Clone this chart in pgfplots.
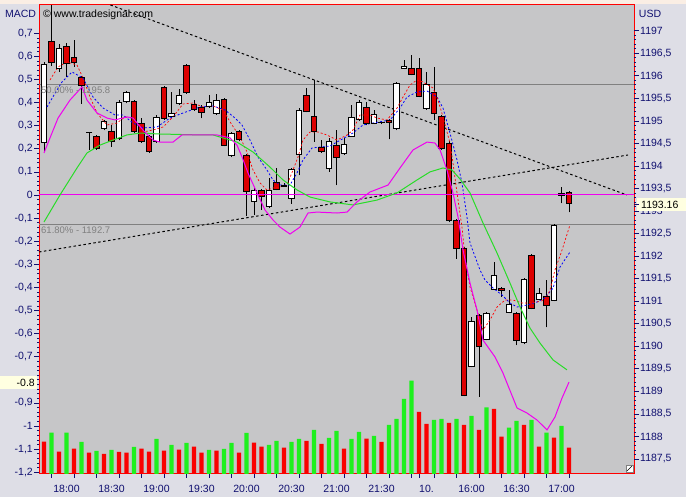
\documentclass[border=0pt]{standalone}
\usepackage{fontspec}
\setmainfont{Liberation Sans}
\usepackage{pgfplots}
\usepackage{pgfplotstable}
\pgfplotsset{compat=1.18}

\definecolor{outerbg}{RGB}{222,222,230}
\definecolor{plotbg}{RGB}{198,198,200}
\definecolor{topband}{RGB}{250,238,228}
\definecolor{navy}{RGB}{16,16,112}
\definecolor{candlered}{RGB}{220,0,0}
\definecolor{volgreen}{RGB}{30,240,30}
\definecolor{volred}{RGB}{250,0,0}
\definecolor{sigreen}{RGB}{40,220,40}
\definecolor{macdmag}{RGB}{240,0,240}
\definecolor{fibgray}{RGB}{128,128,128}
\definecolor{lightyellow}{RGB}{255,255,225}

% all candles: index, open, high, low, close
\pgfplotstableread{
i o h l c
0 1194.515 1196.306 1194.309 1196.261
1 1196.771 1197.570 1196.217 1196.299
2 1196.166 1196.705 1196.084 1196.610
3 1196.661 1196.720 1195.973 1196.277
4 1196.410 1196.794 1196.201 1196.299
5 1195.966 1195.995 1195.374 1195.795
6 1194.742 1194.753 1194.354 1194.742
7 1194.649 1194.686 1194.354 1194.391
8 1194.835 1195.019 1194.797 1194.981
9 1194.775 1194.908 1194.427 1194.538
10 1194.613 1195.463 1194.575 1195.412
11 1195.425 1195.662 1195.396 1195.633
12 1195.425 1195.463 1194.731 1194.760
13 1194.946 1195.063 1194.509 1194.538
14 1194.664 1194.686 1194.287 1194.331
15 1194.538 1195.130 1194.509 1195.079
16 1195.744 1195.773 1195.019 1195.057
17 1195.092 1195.647 1195.063 1195.168
18 1195.389 1195.707 1195.352 1195.558
19 1196.239 1196.261 1195.596 1195.640
20 1195.374 1195.463 1195.219 1195.256
21 1195.301 1195.352 1195.063 1195.190
22 1195.314 1195.574 1195.285 1195.412
23 1195.168 1195.596 1195.130 1195.447
24 1195.478 1195.507 1194.442 1194.464
25 1194.243 1194.753 1194.198 1194.724
26 1194.760 1194.797 1194.553 1194.598
27 1194.227 1194.265 1192.889 1193.429
28 1193.207 1193.511 1192.912 1193.466
29 1193.451 1193.488 1193.023 1193.333
30 1193.111 1193.726 1193.067 1193.466
31 1193.637 1193.948 1193.466 1193.482
32 1193.566 1193.621 1193.533 1193.555
33 1193.282 1193.954 1193.156 1193.925
34 1194.258 1195.285 1193.799 1195.241
35 1195.574 1195.722 1195.196 1195.219
36 1195.108 1195.906 1194.538 1194.760
37 1194.413 1194.575 1194.287 1194.316
38 1193.954 1194.620 1193.866 1194.553
39 1194.464 1194.797 1193.577 1194.192
40 1194.280 1194.613 1194.243 1194.487
41 1194.664 1195.352 1194.642 1195.079
42 1195.035 1195.463 1194.997 1195.412
43 1195.301 1195.425 1194.908 1194.946
44 1194.946 1195.241 1194.930 1195.145
45 1194.968 1194.975 1194.930 1194.968
46 1195.019 1195.041 1194.591 1194.959
47 1194.835 1195.862 1194.797 1195.833
48 1196.166 1196.350 1196.150 1196.217
49 1196.166 1196.461 1196.017 1196.039
50 1196.166 1196.388 1195.529 1195.551
51 1195.279 1196.090 1195.241 1195.811
52 1195.633 1196.201 1195.019 1195.168
53 1195.092 1195.130 1194.354 1194.391
54 1194.509 1194.553 1192.756 1192.785
55 1192.801 1192.823 1191.936 1192.173
56 1192.173 1192.202 1188.897 1188.919
57 1189.562 1190.656 1189.540 1190.560
58 1190.693 1190.716 1188.881 1190.006
59 1190.154 1190.760 1190.139 1190.731
60 1191.263 1191.876 1191.248 1191.574
61 1191.292 1191.314 1191.099 1191.232
62 1190.753 1191.248 1190.738 1190.937
63 1190.731 1190.760 1190.028 1190.123
64 1190.079 1191.514 1190.050 1191.485
65 1192.024 1192.047 1190.826 1190.842
66 1191.048 1191.286 1191.026 1191.175
67 1191.099 1191.470 1190.420 1190.900
68 1191.026 1192.712 1191.004 1192.690
69 1193.393 1193.526 1193.171 1193.355
70 1193.415 1193.444 1192.972 1193.171
}\candles

% rising (white) candles: index, open, close
\pgfplotstableread{
i o c
0 1194.515 1196.261
2 1196.166 1196.610
8 1194.835 1194.981
10 1194.613 1195.412
11 1195.425 1195.633
15 1194.538 1195.079
17 1195.092 1195.168
18 1195.389 1195.558
22 1195.314 1195.412
23 1195.168 1195.447
25 1194.243 1194.724
28 1193.207 1193.466
30 1193.111 1193.466
33 1193.282 1193.925
34 1194.258 1195.241
38 1193.954 1194.553
40 1194.280 1194.487
41 1194.664 1195.079
42 1195.035 1195.412
44 1194.946 1195.145
47 1194.835 1195.833
48 1196.166 1196.217
51 1195.279 1195.811
57 1189.562 1190.560
59 1190.154 1190.731
60 1191.263 1191.574
62 1190.753 1190.937
64 1190.079 1191.485
66 1191.048 1191.175
68 1191.026 1192.690
}\upc

% falling (red) candles: index, open, close
\pgfplotstableread{
i o c
1 1196.771 1196.299
3 1196.661 1196.277
4 1196.410 1196.299
5 1195.966 1195.795
6 1194.742 1194.742
7 1194.649 1194.391
9 1194.775 1194.538
12 1195.425 1194.760
13 1194.946 1194.538
14 1194.664 1194.331
16 1195.744 1195.057
19 1196.239 1195.640
20 1195.374 1195.256
21 1195.301 1195.190
24 1195.478 1194.464
26 1194.760 1194.598
27 1194.227 1193.429
29 1193.451 1193.333
31 1193.637 1193.482
32 1193.566 1193.555
35 1195.574 1195.219
36 1195.108 1194.760
37 1194.413 1194.316
39 1194.464 1194.192
43 1195.301 1194.946
45 1194.968 1194.968
46 1195.019 1194.959
49 1196.166 1196.039
50 1196.166 1195.551
52 1195.633 1195.168
53 1195.092 1194.391
54 1194.509 1192.785
55 1192.801 1192.173
56 1192.173 1188.919
58 1190.693 1190.006
61 1191.292 1191.232
63 1190.731 1190.123
65 1192.024 1190.842
67 1191.099 1190.900
69 1193.393 1193.355
70 1193.415 1193.171
}\downc

\pgfplotstableread{
i v
1 41.3
3 41.3
5 32
7 23
9 24
12 27
15 35
17 29
19 31
22 24
24 25
25 31
27 41
30 29
31 33
33 32
34 35
36 44
38 36
39 43
41 35
42 42
44 38
46 49
47 55
48 75
49 93.3
52 54
53 55
55 55
57 58
59 66.7
62 46.3
63 53
65 54
67 41.3
69 48
}\volg

\pgfplotstableread{
i v
0 32.3
2 22.3
4 25.3
6 21.3
8 20
10 22
11 21.3
13 25.3
14 22.3
16 23.3
18 24.3
20 27.3
21 21.3
23 23.3
26 21.3
28 31.3
29 27.3
32 26.3
35 33
37 30
40 25.3
43 35.3
45 32
50 62
51 50
54 51
56 49
58 44
60 65
61 37.3
64 49
66 27.3
68 36.3
70 26.3
}\volr

\pgfplotstableread{
i p
0.4 1195.307
1.73 1195.685
2.4 1195.862
3.73 1196.084
5.2 1195.951
6.53 1195.529
7.87 1195.285
9.47 1195.130
10.53 1195.130
11.87 1194.952
13.2 1194.842
15.07 1194.864
16.8 1195.063
18.53 1195.174
20.8 1195.307
22.53 1195.330
24.13 1195.241
25.47 1195.063
26.4 1194.908
27.47 1194.575
28.53 1194.198
29.73 1193.910
30.53 1193.688
31.47 1193.577
32.8 1193.577
33.73 1193.843
34.53 1194.132
35.73 1194.398
36.8 1194.420
38.13 1194.442
39.07 1194.531
41.2 1194.731
42.53 1194.908
43.87 1194.952
46.13 1195.019
47.47 1195.285
48.4 1195.529
49.73 1195.640
51.07 1195.662
52.4 1195.529
53.2 1195.285
54.13 1194.731
55.07 1194.132
55.73 1193.621
56.4 1192.867
56.8 1192.291
58.13 1191.692
58.8 1191.470
59.87 1191.292
61.07 1191.137
62.13 1190.960
63.07 1190.871
64.4 1190.915
65.73 1190.982
66.8 1191.070
67.87 1191.292
68.8 1191.758
70.13 1192.091
}\mablue

\pgfplotstableread{
i p
0.8 1195.906
1.87 1196.195
3.07 1196.306
4.4 1196.239
5.2 1195.951
6.13 1195.529
7.07 1195.174
8.4 1194.908
9.73 1194.952
10.8 1195.086
11.87 1195.063
13.2 1194.753
14.53 1194.797
15.87 1194.864
17.2 1195.086
18.53 1195.374
19.87 1195.396
21.2 1195.307
22.53 1195.330
23.87 1195.241
25.07 1194.908
26.13 1194.642
27.07 1194.309
27.87 1193.910
28.8 1193.622
29.73 1193.466
30.53 1193.511
31.47 1193.533
32.4 1193.577
33.2 1193.910
33.87 1194.198
34.53 1194.575
35.47 1194.753
36.53 1194.753
37.73 1194.686
39.07 1194.575
40.4 1194.686
41.2 1194.797
42.13 1195.130
43.47 1195.130
44.4 1195.063
45.73 1195.019
47.07 1195.285
47.87 1195.529
48.8 1195.795
49.73 1195.906
50.53 1195.862
51.87 1195.729
52.53 1195.463
53.2 1195.086
54.13 1194.509
54.53 1194.065
55.07 1193.400
55.73 1192.645
56.13 1191.980
56.8 1191.315
57.73 1190.804
58.53 1190.361
59.47 1190.583
60.4 1190.871
61.47 1191.026
62.53 1191.026
63.73 1190.960
64.53 1190.960
65.73 1190.982
66.8 1191.026
67.47 1191.248
68.13 1191.692
69.07 1192.135
70.13 1192.690
}\mared

\pgfplotstableread{
i m
0 0.182
0.8 0.247
1.87 0.333
3.47 0.411
5.07 0.468
5.73 0.411
7.07 0.355
8.4 0.333
9.47 0.325
11.07 0.338
11.87 0.333
13.2 0.281
14.53 0.238
15.47 0.229
17.2 0.229
18.4 0.260
20.8 0.260
23.07 0.260
24.8 0.247
25.73 0.216
26.4 0.165
27.2 0.095
28.4 0.009
29.47 -0.065
30.53 -0.108
31.47 -0.139
32.8 -0.169
34.13 -0.139
35.2 -0.078
36.4 -0.074
39.07 -0.078
40.4 -0.074
41.73 -0.030
43.47 0.013
45.87 0.043
47.47 0.117
49.2 0.195
51.07 0.229
52.13 0.225
52.8 0.195
53.73 0.108
54.53 0.009
55.2 -0.095
55.87 -0.238
56.8 -0.381
57.73 -0.498
58.53 -0.628
60.13 -0.701
61.2 -0.771
61.73 -0.814
63.07 -0.922
64.4 -0.944
65.73 -0.974
67.07 -1.017
68.13 -0.961
69.07 -0.879
70 -0.810
}\macd

\pgfplotstableread{
i s
0 -0.117
2.13 0
4.4 0.117
5.73 0.182
7.47 0.216
9.2 0.238
11.07 0.260
12.8 0.268
15.47 0.264
20.8 0.260
22.53 0.260
23.87 0.247
25.73 0.229
27.87 0.186
30.13 0.121
31.87 0.065
33.73 0.022
35.47 -0.009
38.13 -0.030
41.2 -0.043
44.4 -0.022
47.07 0.009
49.73 0.065
51.47 0.100
53.2 0.117
54.4 0.108
55.47 0.069
56.8 0.009
58.53 -0.121
60.4 -0.251
62.13 -0.381
63.47 -0.485
64.8 -0.576
66.13 -0.641
67.87 -0.714
69.73 -0.757
}\signal

\pgfplotsset{
  myaxis/.style={
    at={(39pt,23pt)}, anchor=south west,
    width=595pt, height=469pt, scale only axis,
    xmin=-0.667, xmax=78.667, clip=false,
    tick label style={font=\fontsize{10.5}{12}\selectfont, text=navy},
    tick style={navy, line width=0.7pt},
  },
  body/.style={only marks, no markers, mark size=0pt,
    error bars/.cd, y dir=plus, y explicit, error mark=none,
    error mark options={draw=none, fill=none, mark size=0pt},
    error bar style={line cap=butt, #1}},
}

\begin{document}
\begin{tikzpicture}[x=1pt,y=1pt]
\useasboundingbox (0,0) rectangle (686,497);
\fill[outerbg] (0,0) rectangle (686,497);
\fill[topband] (0,493) rectangle (686,497);

% volume pane and frame
\begin{axis}[myaxis,
  ymin=0, ymax=469,
  axis background/.style={fill=plotbg},
  axis line style={red, line width=1pt},
  ytick=\empty,
  xtick={3,9,15,21,27,33,39,45,51,57,63,69},
  xticklabels={18:00,18:30,19:00,19:30,20:00,20:30,21:00,21:30,10.,16:00,16:30,17:00},
  minor xtick={1,4,7,10,13,16,19,22,25,28,31,34,37,40,43,46,49,50,52,55,58,61,64,67,70},
  xtick pos=bottom, tick align=outside,
  major tick length=0pt, minor tick length=4pt,
  xticklabel style={yshift=-8pt},
]
\addplot[ybar, bar width=0.55, bar shift=0pt, fill=volgreen, draw=none] table[x=i,y=v] {\volg};
\addplot[ybar, bar width=0.55, bar shift=0pt, fill=volred, draw=none] table[x=i,y=v] {\volr};
\end{axis}

% price pane
\begin{axis}[myaxis,
  ymin=1187.167, ymax=1197.570,
  axis line style={draw=none},
  xtick=\empty,
  ytick={1187.5,1188,1188.5,1189,1189.5,1190,1190.5,1191,1191.5,1192,1192.5,1193,1193.5,1194,1194.5,1195,1195.5,1196,1196.5,1197},
  yticklabels={{1187,5},{1188},{1188,5},{1189},{1189,5},{1190},{1190,5},{1191},{1191,5},{1192},{1192,5},{1193},{1193,5},{1194},{1194,5},{1195},{1195,5},{1196},{1196,5},{1197}},
  ytick pos=right, yticklabel pos=right,
  tick align=outside, minor y tick num=4,
  major tick length=5pt, minor tick length=2pt,
  yticklabel style={inner sep=1pt},
]
% Fibonacci levels
\addplot[fibgray, line width=0.8pt] coordinates {(-0.667,1195.8) (78.667,1195.8)};
\addplot[fibgray, line width=0.8pt] coordinates {(-0.667,1192.7) (78.667,1192.7)};
% trend lines
\addplot[black, line width=1pt, dash pattern=on 2.5pt off 2.5pt] coordinates {(8.85,1197.570) (77.73,1193.355)};
\addplot[black, line width=1pt, dash pattern=on 2.5pt off 2.5pt] coordinates {(-0.667,1192.091) (77.87,1194.243)};
% wicks
\addplot[body={draw=black, line width=0.9pt}] table[x=i, y=l, y error plus expr=\thisrow{h}-\thisrow{l}] {\candles};
% bodies: outline, then fill
\addplot[body={draw=black, line width=6.2pt}] table[x=i, y=o, y error plus expr=\thisrow{c}-\thisrow{o}] {\upc};
\addplot[body={draw=black, line width=6.2pt}] table[x=i, y=c, y error plus expr=\thisrow{o}-\thisrow{c}] {\downc};
\addplot[body={draw=white, line width=4.6pt}] table[x=i, y=o, y error plus expr=\thisrow{c}-\thisrow{o}] {\upc};
\addplot[body={draw=candlered, line width=4.6pt}] table[x=i, y=c, y error plus expr=\thisrow{o}-\thisrow{c}] {\downc};
% top and bottom edges of the bodies
\addplot[only marks, mark=-, mark size=3.1pt, mark options={black, line width=0.8pt}] table[x=i,y=o] {\candles};
\addplot[only marks, mark=-, mark size=3.1pt, mark options={black, line width=0.8pt}] table[x=i,y=c] {\candles};
% moving averages
\addplot[blue, line width=0.8pt, dash pattern=on 2pt off 2pt] table[x=i,y=p] {\mablue};
\addplot[red, line width=0.7pt, dash pattern=on 2pt off 2pt] table[x=i,y=p] {\mared};
\end{axis}

% MACD pane
\begin{axis}[myaxis,
  ymin=-1.2078, ymax=0.8225,
  axis line style={draw=none},
  xtick=\empty,
  ytick={-1.2,-1.1,-1,-0.9,-0.8,-0.7,-0.6,-0.5,-0.4,-0.3,-0.2,-0.1,0,0.1,0.2,0.3,0.4,0.5,0.6,0.7},
  yticklabels={{-1,2},{-1,1},{-1},{-0,9},{},{-0,7},{-0,6},{-0,5},{-0,4},{-0,3},{-0,2},{-0,1},{0},{0,1},{0,2},{0,3},{0,4},{0,5},{0,6},{0,7}},
  ytick pos=left, yticklabel pos=left,
  tick align=outside, minor y tick num=4,
  major tick length=5pt, minor tick length=2pt,
  yticklabel style={inner sep=1pt},
]
\addplot[macdmag, line width=1pt] coordinates {(-0.667,0) (78.667,0)};
\addplot[sigreen, line width=1pt] table[x=i,y=s] {\signal};
\addplot[macdmag, line width=1pt] table[x=i,y=m] {\macd};
\end{axis}

% annotations
\node[text=navy, font=\fontsize{10.5}{12}\selectfont] at (20.5,483.5) {MACD};
\node[text=navy, font=\fontsize{10.5}{12}\selectfont] at (650,483.5) {USD};
\node[anchor=west, font=\fontsize{10.5}{12}\selectfont, inner sep=0] at (43,482) {© www.tradesignal.com};
\node[anchor=north west, text=fibgray, font=\fontsize{9.5}{11}\selectfont, inner sep=1pt] at (40,411.5) {50.00\% - 1195.8};
\node[anchor=north west, text=fibgray, font=\fontsize{9.5}{11}\selectfont, inner sep=1pt] at (40,271.5) {61.80\% - 1192.7};
\fill[lightyellow] (0,108) rectangle (37,121);
\node[anchor=east, font=\fontsize{10.5}{12}\selectfont, inner sep=0] at (35,114.5) {-0.8};
\fill[lightyellow] (637,286) rectangle (686,299);
\draw[navy, line width=0.7pt] (634,292.5) -- (639,292.5);
\node[anchor=west, font=\fontsize{10.5}{12}\selectfont, inner sep=0] at (641,292.5) {1193.16};
\draw[fill=white, draw=gray] (626,25) rectangle (633,32);
\draw[black] (627,26) -- (632,31);
\end{tikzpicture}
\end{document}
